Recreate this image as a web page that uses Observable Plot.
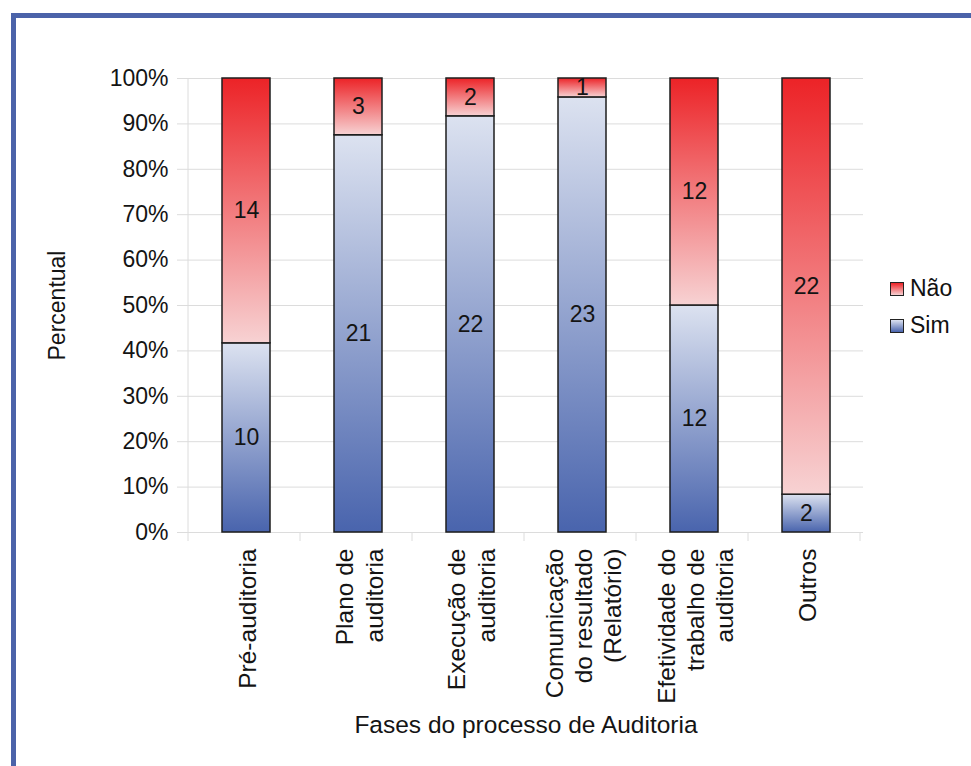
<!DOCTYPE html>
<html>
<head>
<meta charset="utf-8">
<script src="https://cdn.jsdelivr.net/npm/d3@7"></script>
<script src="https://cdn.jsdelivr.net/npm/@observablehq/plot@0.6"></script>
<style>
  body { margin: 0; background: #fff; font-family: "Liberation Sans", Arial, sans-serif; }
  #wrap { position: relative; width: 971px; height: 766px; overflow: hidden; }
  #frame { position: absolute; left: 11px; top: 13px; width: 2000px; height: 2000px;
           border-top: 5px solid #4b63a9; border-left: 5px solid #4b63a9; }
  #chart { position: absolute; left: 0; top: 0; }
  #legend { position: absolute; left: 890px; top: 270px; font-size: 23px; color: #111; }
  .item { display: flex; align-items: center; height: 37px; }
  .sw { width: 12px; height: 12px; border: 1px solid #222; margin-right: 6px; }
</style>
</head>
<body>
<div id="wrap"><div id="frame"></div><div id="chart"></div><div id="legend"></div></div>
<script>
// Audit process phases (multi-line tick labels)
const categories = [
  "Pré-auditoria",
  "Plano de\nauditoria",
  "Execução de\nauditoria",
  "Comunicação\ndo resultado\n(Relatório)",
  "Efetividade do\ntrabalho de\nauditoria",
  "Outros"
];
const seriesNames = ["Sim", "Não"];
const simCounts = [10, 21, 22, 23, 12, 2];
const naoCounts = [14, 3, 2, 1, 12, 22];
const yTicks = [0, 0.1, 0.2, 0.3, 0.4, 0.5, 0.6, 0.7, 0.8, 0.9, 1];

const gridColor = "#dcdcdc";
const textColor = "#141414";

// Long-format rows: "Sim" first so it stacks at the bottom
const rows = [];
seriesNames.forEach(s => {
  const vals = s === "Sim" ? simCounts : naoCounts;
  categories.forEach((c, i) => rows.push({category: c, series: s, value: vals[i]}));
});

// Vertical gradients, one per segment (objectBoundingBox units)
function gradients() {
  const defs = d3.create("svg:defs");
  const sim = defs.append("linearGradient").attr("id", "gradSim")
    .attr("x1", 0).attr("y1", 0).attr("x2", 0).attr("y2", 1);
  sim.append("stop").attr("offset", 0).attr("stop-color", "#dce2f0");
  sim.append("stop").attr("offset", 1).attr("stop-color", "#4964ad");
  const nao = defs.append("linearGradient").attr("id", "gradNao")
    .attr("x1", 0).attr("y1", 0).attr("x2", 0).attr("y2", 1);
  nao.append("stop").attr("offset", 0).attr("stop-color", "#ec2327");
  nao.append("stop").attr("offset", 1).attr("stop-color", "#f7d2d3");
  return defs.node();
}

// Left axis line and category separator ticks at the band boundaries
function categoryFrame(index, scales, values, dims) {
  const x = scales.x, y = scales.y;
  const step = x(categories[1]) - x(categories[0]);
  const gap = x(categories[0]) - dims.marginLeft;
  const bounds = categories.map(c => x(c) - gap);
  bounds.push(bounds[bounds.length - 1] + step);
  const g = d3.create("svg:g").attr("stroke", gridColor).attr("stroke-width", 1);
  g.selectAll("line.sep").data(bounds).join("line").attr("class", "sep")
    .attr("x1", d => d).attr("x2", d => d)
    .attr("y1", y(0)).attr("y2", y(0) + 9);
  g.append("line")
    .attr("x1", bounds[0]).attr("x2", bounds[0])
    .attr("y1", y(1)).attr("y2", y(0));
  return g.node();
}

const chart = Plot.plot({
  width: 971,
  height: 766,
  marginLeft: 188,
  marginRight: 108,
  marginTop: 78,
  marginBottom: 234,
  style: {fontFamily: "Liberation Sans, Arial, sans-serif", color: textColor, background: "transparent"},
  x: {domain: categories, paddingInner: 0.573, paddingOuter: 0.2865},
  y: {domain: [0, 1]},
  color: {domain: seriesNames, range: ["url(#gradSim)", "url(#gradNao)"]},
  marks: [
    gradients,
    Plot.gridY(yTicks, {stroke: gridColor, strokeOpacity: 1}),
    Plot.ruleY([0], {stroke: gridColor}),
    categoryFrame,
    Plot.axisY(yTicks, {
      tickFormat: d3.format(".0%"), tickSize: 11, tickPadding: 9,
      stroke: gridColor, strokeOpacity: 1, fontSize: 23,
      label: "Percentual", labelAnchor: "center", labelArrow: "none", labelOffset: 140
    }),
    Plot.axisX({
      tickRotate: -90, tickSize: 0, tickPadding: 16, fontSize: 24.5, lineHeight: 1.2,
      label: "Fases do processo de Auditoria", labelAnchor: "center", labelArrow: "none", labelOffset: 200
    }),
    Plot.barY(rows, Plot.stackY({
      offset: "normalize", x: "category", y: "value", fill: "series",
      stroke: "#1e1e1e", strokeWidth: 1.5
    })),
    Plot.text(rows, Plot.stackY({
      offset: "normalize", x: "category", y: "value", text: "value",
      fontSize: 23, fill: textColor
    }))
  ]
});
document.getElementById("chart").appendChild(chart);

// Legend: "Não" above "Sim", with gradient swatches
const legend = d3.select("#legend");
[["Não", "linear-gradient(#ec2327, #f7d2d3)"], ["Sim", "linear-gradient(#dce2f0, #4964ad)"]]
  .forEach(([name, bg]) => {
    const item = legend.append("div").attr("class", "item");
    item.append("div").attr("class", "sw").style("background", bg);
    item.append("span").text(name);
  });
</script>
</body>
</html>
